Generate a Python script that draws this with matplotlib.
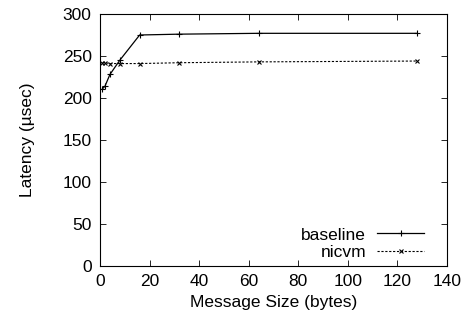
import matplotlib
matplotlib.use("Agg")
import matplotlib.pyplot as plt

# message sizes (bytes)
sizes = [1, 2, 4, 8, 16, 32, 64, 128]
# latency (usec)
baseline = [211, 214, 228, 245, 275, 276, 277, 277]
nicvm = [242, 242, 241, 241, 241, 242, 243, 244]

plt.rcParams['font.family'] = ['Liberation Sans', 'DejaVu Sans']
plt.rcParams['font.size'] = 12.5

fig = plt.figure(figsize=(4.68, 3.27), dpi=100)
ax = fig.add_axes([100 / 468, 1 - 266 / 327, 347 / 468, 252 / 327])

ax.plot(sizes, baseline, color='black', lw=0.9, marker='+', ms=4, mew=0.8, label='baseline')
ax.plot(sizes, nicvm, color='black', lw=0.8, ls=(0, (2, 1.5)), marker='x', ms=3.5, mew=0.8, label='nicvm')

ax.set_xlim(0, 140)
ax.set_ylim(0, 300)
ax.set_xticks(range(0, 141, 20))
ax.set_yticks(range(0, 301, 50))
ax.tick_params(direction='in', top=True, right=True, length=4, width=0.6, pad=6)
for s in ax.spines.values():
    s.set_linewidth(0.8)

ax.set_xlabel('Message Size (bytes)', labelpad=4)
ax.set_ylabel('Latency (\u00b5sec)', labelpad=20)

ax.legend(loc='lower right', bbox_to_anchor=(0.955, -0.005), frameon=False,
          markerfirst=False, handlelength=2.75, handletextpad=0.6,
          borderaxespad=0.0, labelspacing=0.15)

fig.savefig('out.png', dpi=100)
